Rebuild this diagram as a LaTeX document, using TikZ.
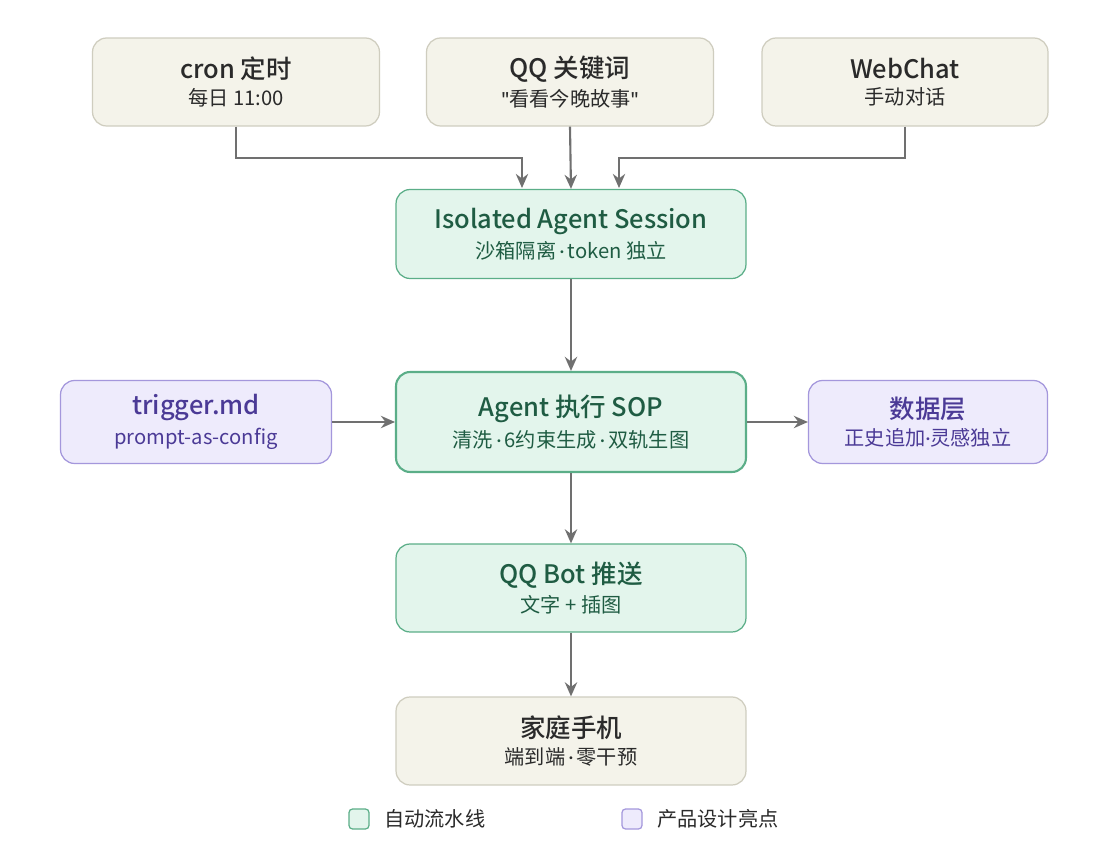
\documentclass[tikz,border=0pt]{standalone}
\usepackage{fontspec}
\setmainfont{Noto Sans CJK SC}[BoldFont={Noto Sans CJK SC Medium}]
\newfontfamily\lat{Fira Sans}
\usetikzlibrary{arrows.meta}
\definecolor{bfill}{HTML}{F4F3EA}\definecolor{bdraw}{HTML}{CFCDBF}\definecolor{btext}{HTML}{2A2A2A}
\definecolor{gfill}{HTML}{E3F5EC}\definecolor{gdraw}{HTML}{5BAE88}\definecolor{gtext}{HTML}{1F5C43}
\definecolor{pfill}{HTML}{EEEBFC}\definecolor{pdraw}{HTML}{A497DC}\definecolor{ptext}{HTML}{4B3A96}
\definecolor{arr}{HTML}{707070}
\tikzset{
 box/.style={rounded corners=8pt,line width=0.7pt,align=center,inner sep=0pt},
 beige/.style={box,fill=bfill,draw=bdraw,text=btext},
 green/.style={box,fill=gfill,draw=gdraw,text=gtext},
 purple/.style={box,fill=pfill,draw=pdraw,text=ptext},
 con/.style={draw=arr,line width=1.2pt,-{Stealth[length=8pt,width=7pt]}},
 s/.style={font=\fontsize{11.5}{14}\selectfont},
}
\newcommand{\bx}[2]{{\fontsize{14.5}{18}\selectfont\bfseries #1}\\[3pt]{\fontsize{11.5}{14}\selectfont #2}}
\newcommand{\md}{{\lat\,·\,}}
\newcommand{\mdt}{{\lat·}}
\begin{document}
\begin{tikzpicture}[x=0.02cm,y=-0.02cm]
\useasboundingbox (0,0) rectangle (1100,844);
\fill[white] (0,0) rectangle (1100,844);
\node[beige,minimum width=5.74cm,minimum height=1.76cm] (cron) at (236,82) {\bx{cron 定时}{每日 11:00}};
\node[beige,minimum width=5.74cm,minimum height=1.76cm] (qq) at (570,82) {\bx{QQ 关键词}{{\lat"}看看今晚故事{\lat"}}};
\node[beige,minimum width=5.72cm,minimum height=1.76cm] (web) at (905,82) {\bx{WebChat}{手动对话}};
\node[green,minimum width=7cm,minimum height=1.78cm] (iso) at (571,234) {\bx{Isolated Agent Session}{沙箱隔离\md token 独立}};
\node[green,line width=1.2pt,minimum width=7cm,minimum height=2cm] (sop) at (571,422) {\bx{Agent 执行 SOP}{清洗\md 6约束生成\md 双轨生图}};
\node[purple,minimum width=5.42cm,minimum height=1.66cm] (trig) at (196,422) {\bx{trigger.md}{prompt-as-config}};
\node[purple,minimum width=4.78cm,minimum height=1.66cm] (data) at (928,422) {\bx{数据层}{正史追加\mdt 灵感独立}};
\node[green,minimum width=7cm,minimum height=1.76cm] (bot) at (571,588) {\bx{QQ Bot 推送}{文字 + 插图}};
\node[beige,minimum width=7cm,minimum height=1.76cm] (phone) at (571,741) {\bx{家庭手机}{端到端\md 零干预}};
\coordinate (c1) at (522,188);\coordinate (c3) at (619,188);
\draw[con] (cron.south) |- (522,158) -- (c1);
\draw[con] (qq.south) -- (iso.north);
\draw[con] (web.south) |- (619,158) -- (c3);
\draw[con] (iso) -- (sop);
\draw[con] (trig) -- (sop);
\draw[con] (sop) -- (data);
\draw[con] (sop) -- (bot);
\draw[con] (bot) -- (phone);
\node[green,rounded corners=2pt,minimum size=0.4cm] (lg) at (359,819) {};
\node[anchor=west,s,text=btext] (lgt) at (378,819) {自动流水线};
\node[purple,rounded corners=2pt,minimum size=0.4cm] (lp) at (632,819) {};
\node[anchor=west,s,text=btext] (lpt) at (651,819) {产品设计亮点};
\end{tikzpicture}
\end{document}
